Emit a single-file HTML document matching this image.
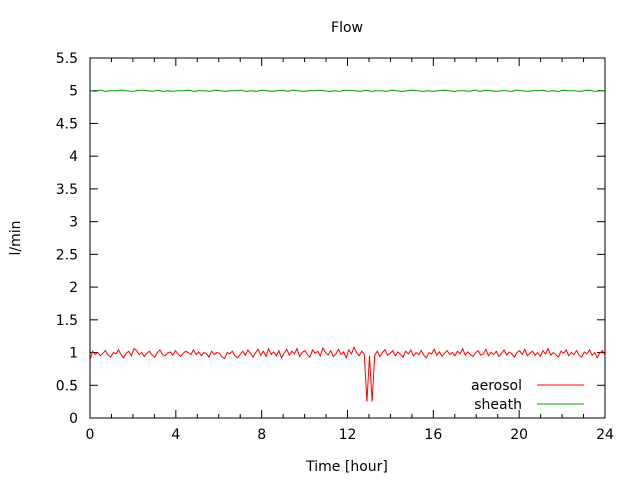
<!DOCTYPE html>
<html><head><meta charset="utf-8"><style>
body{margin:0;background:#fff}
svg{display:block;font-family:"DejaVu Sans","Liberation Sans",sans-serif}
</style></head><body>
<svg id="chart" width="640" height="480"></svg>
<script>
const xTicks=[0,4,8,12,16,20,24];
const yTicks=[0,0.5,1,1.5,2,2.5,3,3.5,4,4.5,5,5.5];
const yTickLabels=["0","0.5","1","1.5","2","2.5","3","3.5","4","4.5","5","5.5"];
const aerosolVals=[0.88,1.02,0.97,1.0,0.95,0.99,1.03,0.96,0.93,1.0,0.98,1.04,0.97,0.92,0.99,1.02,0.95,1.06,1.03,0.97,1.0,0.94,0.99,1.02,0.96,0.93,1.0,1.04,0.97,0.95,0.99,1.01,0.96,1.03,0.98,0.94,0.99,1.02,1.0,0.97,1.04,0.97,1.01,0.95,1.0,0.98,0.93,1.02,0.97,1.0,0.99,0.93,0.91,1.0,0.98,1.02,0.95,0.92,0.97,1.02,0.96,1.04,0.99,0.93,1.0,1.05,0.96,1.02,0.94,1.06,0.97,1.01,0.95,1.03,0.92,0.99,1.05,0.96,1.02,0.98,1.06,0.94,1.0,1.03,0.97,0.93,1.04,0.99,1.02,0.95,1.07,1.0,0.96,1.03,0.94,0.98,1.05,0.97,1.01,0.92,1.04,0.98,1.08,1.0,0.95,1.02,0.97,0.25,0.95,0.25,0.96,1.02,0.94,1.0,1.04,0.96,0.99,1.03,0.95,1.01,0.97,0.93,1.02,0.98,1.04,0.95,1.0,0.97,1.03,0.96,0.92,1.0,0.98,1.05,0.96,1.01,0.94,0.99,1.03,0.97,1.0,0.95,1.02,0.98,1.06,0.96,1.01,0.97,0.94,1.0,1.03,0.96,0.98,1.05,0.95,1.0,0.97,1.02,0.94,0.99,1.04,0.96,1.01,0.98,0.93,1.0,1.03,0.97,1.05,0.95,0.99,1.02,0.96,1.0,0.94,1.03,0.98,1.06,0.96,1.0,0.97,0.93,1.02,0.99,1.04,0.95,1.0,0.97,1.03,0.96,0.93,1.01,0.98,1.04,0.96,1.0,0.92,0.99,1.03,0.96];
const sheathVals=[5.0,4.99,5.01,4.99,5.0,5.0,5.01,5.0,4.99,5.0,5.01,5.0,4.99,5.01,4.99,5.0,4.99,5.0,5.0,5.01,4.99,5.0,5.0,4.99,5.01,5.0,4.99,5.0,5.0,5.01,4.99,5.0,4.99,5.01,5.0,4.99,5.0,5.01,4.99,5.01,5.0,4.99,5.0,5.0,5.01,5.0,4.99,5.0,4.99,5.01,5.0,5.0,4.99,5.01,4.99,5.0,5.0,4.99,5.01,5.0,4.99,5.0,5.01,5.0,4.99,5.0,4.99,5.0,5.01,5.0,4.99,5.0,5.0,4.99,5.01,4.99,5.01,5.0,4.99,5.0,5.0,4.99,5.01,5.0,4.99,5.0,5.0,5.01,4.99,5.0,4.99,5.01,5.0,5.0,4.99,5.0,5.01,4.99,5.0,5.0];
const svgNS="http://www.w3.org/2000/svg";
const svg=document.getElementById('chart');
const L=90,R=605,T=58,B=418;
const xs=v=>L+(v-0)/(24-0)*(R-L);
const ys=v=>B-(v-0)/(5.5-0)*(B-T);
function mk(tag,attrs,parent){const e=document.createElementNS(svgNS,tag);for(const k in attrs)e.setAttribute(k,attrs[k]);(parent||svg).appendChild(e);return e;}
const fr=mk('rect',{x:L,y:T,width:R-L,height:B-T,fill:'none',stroke:'#000','stroke-width':1});


yTicks.forEach((v,i)=>{
  const y=ys(v);
  const t1=mk('line',{x1:L,x2:L+8,y1:y,y2:y,stroke:'#000'});
  
  
  const t2=mk('line',{x1:R,x2:R-8,y1:y,y2:y,stroke:'#000'});
  
  
  const tx=mk('text',{x:L-12,y:y+5,'text-anchor':'end','font-size':14,fill:'#000'});
  tx.textContent=yTickLabels[i];
  
  
});
for(let h=0;h<=24;h++){
  const x=xs(h),len=(h%4===0)?8:4;
  const a=mk('line',{x1:x,x2:x,y1:B,y2:B-len,stroke:'#000'});
  
  
  const b=mk('line',{x1:x,x2:x,y1:T,y2:T+len,stroke:'#000'});
  
  
}
xTicks.forEach(v=>{
  const tx=mk('text',{x:xs(v),y:B+21,'text-anchor':'middle','font-size':14,fill:'#000'});
  tx.textContent=String(v);
  
  
});
function series(vals,color,name){
  const n=vals.length;
  const pts=vals.map((v,i)=>xs(i*24/(n-1)).toFixed(1)+','+ys(v).toFixed(1)).join(' ');
  const p=mk('polyline',{points:pts,fill:'none',stroke:color,'stroke-width':1});
  
  
}
series(sheathVals,'#00a000','sheath-line');
series(aerosolVals,'#ff0000','aerosol-line');
[['aerosol','#ff0000',385],['sheath','#00a000',404]].forEach(([lab,c,y])=>{
  const t=mk('text',{x:522,y:y+5,'text-anchor':'end','font-size':14,fill:'#000'});
  t.textContent=lab;
  
  
  const l=mk('line',{x1:537,x2:584,y1:y,y2:y,stroke:c});
  
  
});
const title=mk('text',{x:347,y:32,'text-anchor':'middle','font-size':14,fill:'#000'});
title.textContent='Flow';


const xt=mk('text',{x:347,y:471,'text-anchor':'middle','font-size':14,fill:'#000'});
xt.textContent='Time [hour]';


const yt=mk('text',{x:20,y:238,'text-anchor':'middle','font-size':14,fill:'#000',transform:'rotate(-90 20 238)'});
yt.textContent='l/min';


</script>
</body></html>
